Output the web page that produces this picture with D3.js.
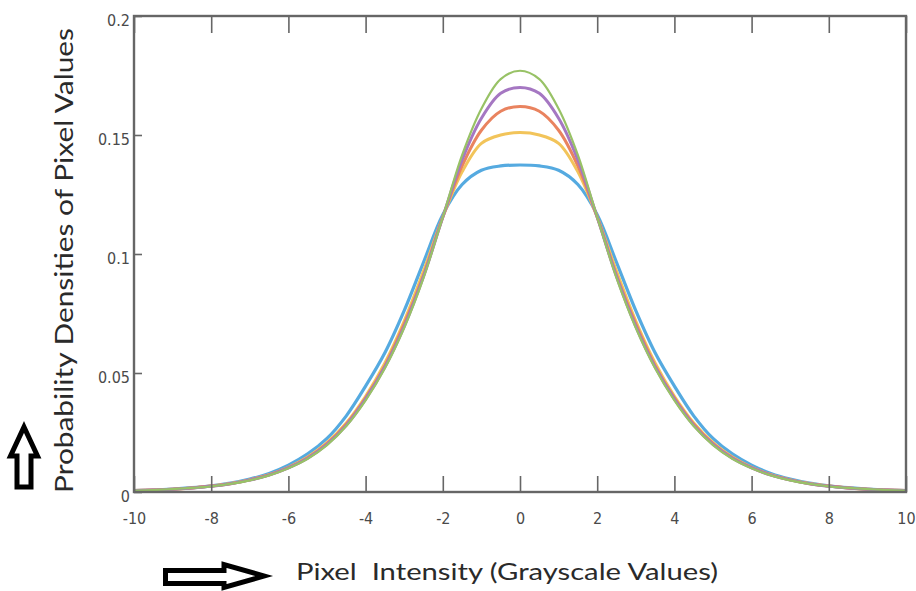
<!DOCTYPE html>
<html>
<head>
<meta charset="utf-8">
<script src="https://cdn.jsdelivr.net/npm/d3@7"></script>
<style>
  body { margin: 0; background: #fff; }
  svg { display: block; }
</style>
</head>
<body>
<div id="chart"></div>
<script>
// x positions of the sampled points (pixel intensity)
const xs = [-10, -9.5, -9, -8.5, -8, -7.5, -7, -6.5, -6, -5.5, -5, -4.5, -4, -3.5, -3, -2.5, -2, -1.5, -1, -0.5,
  0, 0.5, 1, 1.5, 2, 2.5, 3, 3.5, 4, 4.5, 5, 5.5, 6, 6.5, 7, 7.5, 8, 8.5, 9, 9.5, 10]

// densities, one array per curve
const blue = [0.0006, 0.0008, 0.0012, 0.0018, 0.0026, 0.0037, 0.0054, 0.0078, 0.0113, 0.0160, 0.0225, 0.0320, 0.0445, 0.0585, 0.0762, 0.0965, 0.1165, 0.1292, 0.1352, 0.1370,
  0.1374, 0.1370, 0.1352, 0.1292, 0.1165, 0.0965, 0.0762, 0.0585, 0.0445, 0.0320, 0.0225, 0.0160, 0.0113, 0.0078, 0.0054, 0.0037, 0.0026, 0.0018, 0.0012, 0.0008, 0.0006]
const yellow = [0.0006, 0.0008, 0.0012, 0.0017, 0.0025, 0.0036, 0.0051, 0.0073, 0.0104, 0.0147, 0.0207, 0.0290, 0.0402, 0.0542, 0.0718, 0.0928, 0.1155, 0.1345, 0.1465, 0.1500,
  0.1510, 0.1500, 0.1465, 0.1345, 0.1155, 0.0928, 0.0718, 0.0542, 0.0402, 0.0290, 0.0207, 0.0147, 0.0104, 0.0073, 0.0051, 0.0036, 0.0025, 0.0017, 0.0012, 0.0008, 0.0006]
const orange = [0.0006, 0.0008, 0.0012, 0.0017, 0.0025, 0.0035, 0.0051, 0.0072, 0.0102, 0.0144, 0.0203, 0.0285, 0.0395, 0.0530, 0.0705, 0.0910, 0.1155, 0.1370, 0.1520, 0.1600,
  0.1620, 0.1600, 0.1520, 0.1370, 0.1155, 0.0910, 0.0705, 0.0530, 0.0395, 0.0285, 0.0203, 0.0144, 0.0102, 0.0072, 0.0051, 0.0035, 0.0025, 0.0017, 0.0012, 0.0008, 0.0006]
const purple = [0.0006, 0.0008, 0.0012, 0.0017, 0.0024, 0.0035, 0.0050, 0.0071, 0.0101, 0.0142, 0.0200, 0.0280, 0.0390, 0.0525, 0.0695, 0.0905, 0.1155, 0.1395, 0.1570, 0.1675,
  0.1700, 0.1675, 0.1570, 0.1395, 0.1155, 0.0905, 0.0695, 0.0525, 0.0390, 0.0280, 0.0200, 0.0142, 0.0101, 0.0071, 0.0050, 0.0035, 0.0024, 0.0017, 0.0012, 0.0008, 0.0006]
const green = [0.0006, 0.0008, 0.0012, 0.0017, 0.0024, 0.0034, 0.0049, 0.0070, 0.0100, 0.0140, 0.0197, 0.0277, 0.0385, 0.0520, 0.0690, 0.0900, 0.1155, 0.1415, 0.1610, 0.1735,
  0.1770, 0.1735, 0.1610, 0.1415, 0.1155, 0.0900, 0.0690, 0.0520, 0.0385, 0.0277, 0.0197, 0.0140, 0.0100, 0.0070, 0.0049, 0.0034, 0.0024, 0.0017, 0.0012, 0.0008, 0.0006]

const xTicks = [-10, -8, -6, -4, -2, 0, 2, 4, 6, 8, 10]
const xTickLabels = ['-10', '-8', '-6', '-4', '-2', '0', '2', '4', '6', '8', '10']
const yTicks = [0, 0.05, 0.1, 0.15, 0.2]
const yTickLabels = ['0', '0.05', '0.1', '0.15', '0.2']

const series = [
  { values: blue, color: '#55aae0', width: 3.2 },
  { values: yellow, color: '#f2c45a', width: 3 },
  { values: orange, color: '#e9835f', width: 3 },
  { values: purple, color: '#a577c2', width: 3 },
  { values: green, color: '#98c266', width: 2.2 }
]

// sizes
const W = 916
const H = 591
const plot = { left: 134, right: 906, top: 16, bottom: 492 }

const svg = d3.select('#chart')
  .append('svg')
  .attr('width', W)
  .attr('height', H)

const x = d3.scaleLinear().domain([-10, 10]).range([plot.left, plot.right])
const y = d3.scaleLinear().domain([0, 0.2]).range([plot.bottom, plot.top])

const line = d3.line()
  .x((d, i) => x(xs[i]))
  .y(d => y(d))
  .curve(d3.curveCatmullRom.alpha(0.5))

// curves
svg.append('g')
  .attr('class', 'curves')
  .selectAll('path')
  .data(series)
  .enter().append('path')
  .attr('d', d => line(d.values))
  .attr('fill', 'none')
  .attr('stroke', d => d.color)
  .attr('stroke-width', d => d.width)
  .attr('stroke-linejoin', 'round')

// axes, matlab style box with inward ticks
const axisColor = '#666'
const tickFont = '"Liberation Sans Narrow", "DejaVu Sans Condensed", sans-serif'

const xBottom = d3.axisBottom(x).tickValues(xTicks).tickSize(-16).tickPadding(21).tickSizeOuter(0)
  .tickFormat((d, i) => xTickLabels[i])
const xTop = d3.axisTop(x).tickValues(xTicks).tickSize(-17).tickFormat('').tickSizeOuter(0)
const yLeft = d3.axisLeft(y).tickValues(yTicks).tickSize(-8).tickPadding(4).tickSizeOuter(0)
  .tickFormat((d, i) => yTickLabels[i])

function styleAxis (g) {
  g.select('.domain').remove()
  g.selectAll('.tick line').attr('stroke', axisColor).attr('stroke-width', 1.6)
  g.selectAll('.tick text')
    .attr('fill', '#4a4a4a')
    .style('font-family', tickFont)
    .style('font-size', '16px')
}

svg.append('g')
  .attr('transform', `translate(0,${plot.bottom})`)
  .call(xBottom)
  .call(styleAxis)

svg.append('g')
  .attr('transform', `translate(0,${plot.top})`)
  .call(xTop)
  .call(styleAxis)

svg.append('g')
  .attr('transform', `translate(${plot.left},0)`)
  .call(yLeft)
  .call(styleAxis)
  .selectAll('.tick text')
  .attr('dy', '0.6em')

// frame
svg.append('rect')
  .attr('x', plot.left)
  .attr('y', plot.top)
  .attr('width', plot.right - plot.left)
  .attr('height', plot.bottom - plot.top)
  .attr('fill', 'none')
  .attr('stroke', axisColor)
  .attr('stroke-width', 2.4)

// axis titles
const labelFont = 'Lato, "Open Sans", sans-serif'

svg.append('text')
  .attr('transform', 'translate(73,493) rotate(-90)')
  .attr('text-anchor', 'start')
  .attr('textLength', 465)
  .attr('lengthAdjust', 'spacingAndGlyphs')
  .style('font-family', labelFont)
  .style('font-size', '25px')
  .attr('fill', '#2a2a2a')
  .text('Probability Densities of Pixel Values')

svg.append('text')
  .attr('x', 296)
  .attr('y', 580)
  .attr('textLength', 422)
  .attr('lengthAdjust', 'spacingAndGlyphs')
  .style('font-family', labelFont)
  .style('font-size', '24px')
  .style('white-space', 'pre')
  .attr('xml:space', 'preserve')
  .attr('fill', '#2a2a2a')
  .text('Pixel  Intensity (Grayscale Values)')

// hollow arrows next to the titles
svg.append('path')
  .attr('d', 'M24,427 L37.5,456 L31,456 L31,487 L17,487 L17,456 L10.5,456 Z')
  .attr('fill', '#fff')
  .attr('stroke', '#000')
  .attr('stroke-width', 5)
  .attr('stroke-linejoin', 'miter')

svg.append('path')
  .attr('d', 'M165.5,570.5 L224,570.5 L224,564.5 L264,576 L224,587.5 L224,583.5 L165.5,583.5 Z')
  .attr('fill', '#fff')
  .attr('stroke', '#000')
  .attr('stroke-width', 5)
  .attr('stroke-linejoin', 'miter')
</script>
</body>
</html>
